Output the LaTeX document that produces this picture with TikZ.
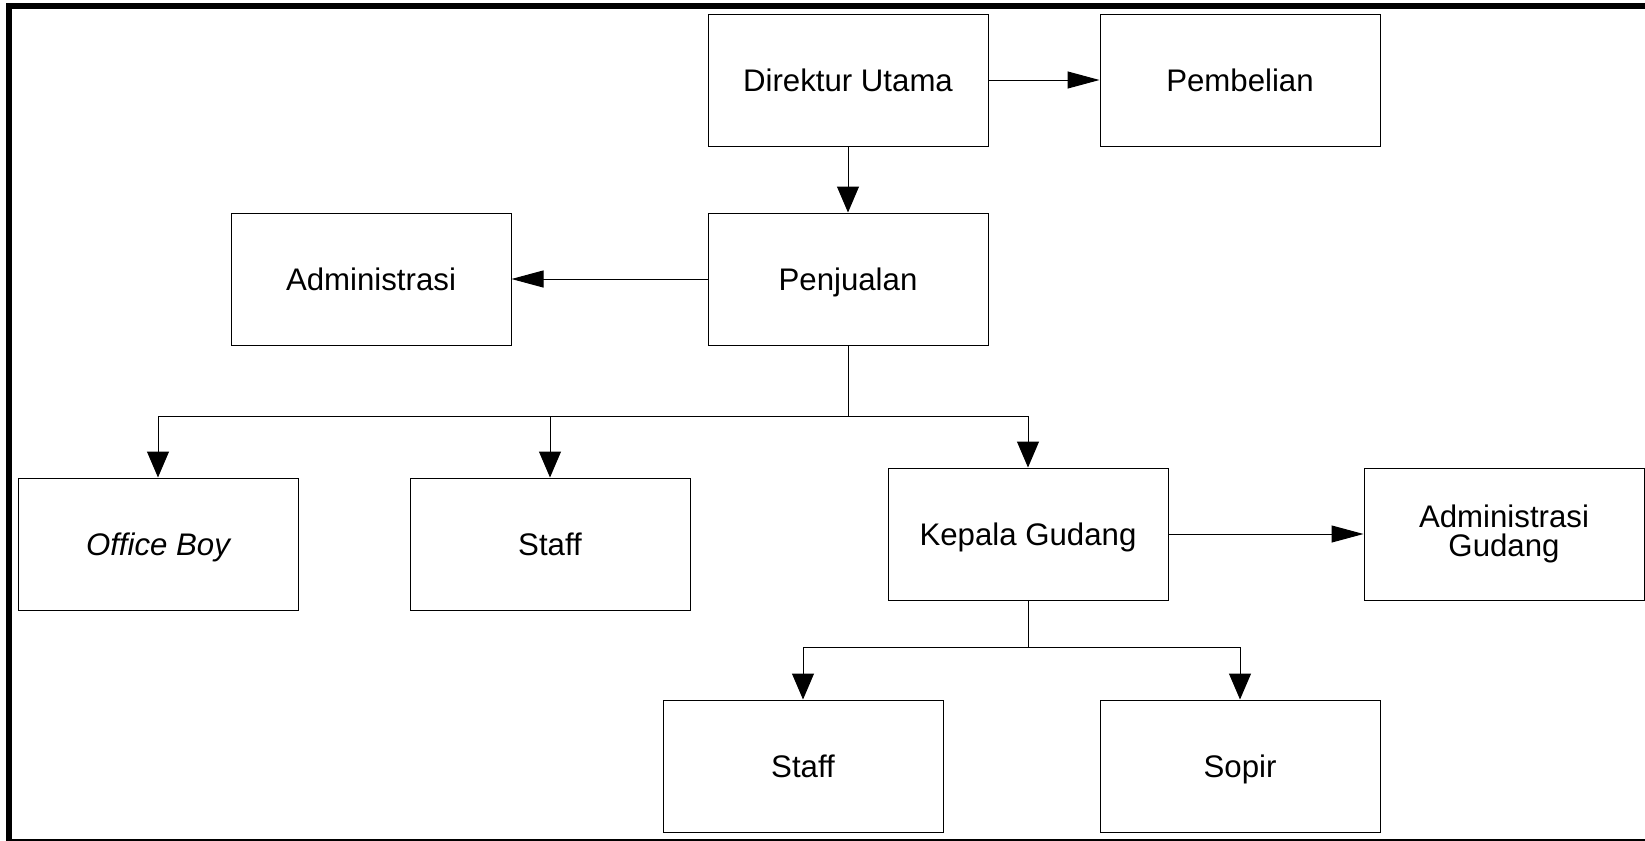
\documentclass[tikz,border=0pt]{standalone}
\usepackage{fontspec}
\setmainfont{Liberation Sans}
\usetikzlibrary{arrows.meta}

\tikzset{
  unit/.style={draw,line width=0.5pt,minimum width=140pt,minimum height=66pt,
    inner sep=0pt,align=center,text height=13.5pt,text depth=2.4pt,
    font=\fontsize{15.6}{14.6}\selectfont},
  vtip/.style={-{Triangle[length=13pt,width=11pt]}},
  htip/.style={-{Triangle[length=16pt,width=8.5pt]}},
}

\begin{document}
\begin{tikzpicture}[x=0.5pt,y=-0.5pt,line width=0.5pt]
   \useasboundingbox (0,0) rectangle (1645,841);
   \begin{scope}
     \clip (0,0) rectangle (1645,841);
     \draw [line width=3pt] (1700,842) -- (9,842) -- (9,6) -- (1700,6) ;
   \end{scope}

   \node[unit] (dirut) at (848,80) {Direktur Utama};
   \node[unit] (beli) at (1240,80) {Pembelian};
   \node[unit] (jual) at (848,279) {Penjualan};
   \node[unit] (adm) at (371,279) {Administrasi};
   \node[unit] (ob) at (158,544) {\itshape Office Boy};
   \node[unit] (staff1) at (550,544) {Staff};
   \node[unit] (kagud) at (1028,534) {Kepala Gudang};
   \node[unit,text height=,text depth=] (admgud) at (1504,534) {Administrasi\\Gudang};
   \node[unit] (staff2) at (803,766) {Staff};
   \node[unit] (sopir) at (1240,766) {Sopir};

   \coordinate (jbus) at (848,416.5);
   \coordinate (kbus) at (1028,647);

   \draw [htip] (dirut) -- (beli) ;
   \draw [vtip] (dirut) -- (jual) ;
   \draw [htip] (jual) -- (adm) ;
   \draw (jual) -- (jbus) ;
   \draw [vtip] (jbus) -| (ob) ;
   \draw [vtip] (jbus) -| (staff1) ;
   \draw [vtip] (jbus) -| (kagud) ;
   \draw [htip] (kagud) -- (admgud) ;
   \draw (kagud) -- (kbus) ;
   \draw [vtip] (kbus) -| (staff2) ;
   \draw [vtip] (kbus) -| (sopir) ;
\end{tikzpicture}
\end{document}
